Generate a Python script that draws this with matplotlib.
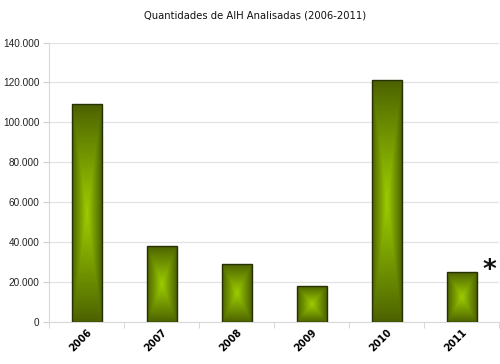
import numpy as np
import matplotlib
matplotlib.use('Agg')
import matplotlib.pyplot as plt
import matplotlib.transforms as mtrans
from matplotlib.colors import LinearSegmentedColormap

# dados
anos = ['2006', '2007', '2008', '2009', '2010', '2011']
qtd_aih = [109000, 38000, 29000, 18000, 121000, 25000]
y_ticks = [0, 20000, 40000, 60000, 80000, 100000, 120000, 140000]
y_labels = ['0', '20.000', '40.000', '60.000', '80.000', '100.000', '120.000', '140.000']
titulo = 'Quantidades de AIH Analisadas (2006-2011)'

cmap = LinearSegmentedColormap.from_list('verde', ['#4a5f00', '#709200', '#9ccc00'])

fig = plt.figure(figsize=(5.0, 3.64), dpi=100)
ax = fig.add_axes([0.098, 0.1154, 0.900, 0.7678])

x = np.arange(len(anos))
bars = ax.bar(x, qtd_aih, width=0.4, facecolor='none', edgecolor='#263000',
              linewidth=1.0, zorder=4)

# gradiente "piramide" em cada barra
u = np.linspace(-1, 1, 60)
for rect in bars:
    x0 = rect.get_x()
    w = rect.get_width()
    h = rect.get_height()
    vv = np.linspace(-1, 1, 300)
    U, V = np.meshgrid(u, vv)
    val = (1 - np.maximum(np.abs(U), np.abs(V))) ** 0.85
    ax.imshow(val, cmap=cmap, vmin=0, vmax=1, aspect='auto',
              extent=(x0, x0 + w, 0, h), origin='lower', zorder=3,
              interpolation='bilinear')

ax.set_xlim(-0.5, len(anos) - 0.5)
ax.set_ylim(0, 140000)

ax.set_yticks(y_ticks)
ax.set_yticklabels(y_labels, fontfamily='Liberation Sans', fontsize=7.2, color='#222222')
ax.grid(axis='y', color='#e3e3e3', linewidth=0.9, zorder=0)
ax.set_axisbelow(True)

ax.set_xticks(x)
ax.set_xticklabels(anos, rotation=45, ha='right', va='top', rotation_mode='anchor',
                   fontsize=7, fontweight='bold', color='black')
desloc = mtrans.ScaledTranslation(-8 / 100, 0, fig.dpi_scale_trans)
for lb in ax.get_xticklabels():
    lb.set_transform(lb.get_transform() + desloc)
ax.set_xticks(np.arange(-0.5, len(anos)), minor=True)
ax.tick_params(axis='x', which='major', length=0, pad=4)
ax.tick_params(axis='x', which='minor', length=4, color='#d0d0d0')
ax.tick_params(axis='y', length=4, color='#d0d0d0', pad=3)

for s in ['top', 'right']:
    ax.spines[s].set_visible(False)
ax.spines['left'].set_color('#d9d9d9')
ax.spines['bottom'].set_color('#d9d9d9')

fig.text(0.51, 0.958, titulo, ha='center', va='center', fontsize=7.2, color='#111111')

ax.text(0.978, 0.156, '*', transform=ax.transAxes, ha='center', va='baseline',
        fontsize=19, fontweight='bold', color='#111111')

fig.savefig('out.png', dpi=100)
